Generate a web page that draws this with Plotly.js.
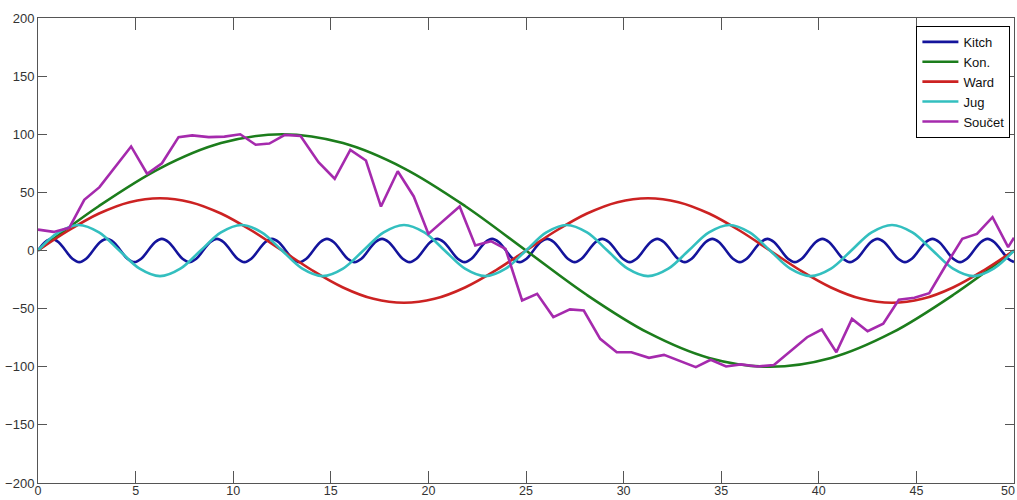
<!DOCTYPE html>
<html>
<head>
<meta charset="utf-8">
<script src="https://cdn.plot.ly/plotly-3.0.1.min.js"></script>
<style>html,body{margin:0;padding:0;background:#fff;}#chart{width:1017px;height:500px;}</style>
</head>
<body>
<div id="chart"></div>
<script>
// Kitch (short cycle) - points read at eighth-periods
const kitchX = [0,0.3525,0.705,1.0575,1.41,1.7625,2.115,2.4675,2.82,3.1725,3.525,3.8775,4.23,4.5825,4.935,5.2875,5.64,5.9925,6.345,6.6975,7.05,7.4025,7.755,8.1075,8.46,8.8125,9.165,9.5175,9.87,10.2225,10.575,10.9275,11.28,11.6325,11.985,12.3375,12.69,13.0425,13.395,13.7475,14.1,14.4525,14.805,15.1575,15.51,15.8625,16.215,16.5675,16.92,17.2725,17.625,17.9775,18.33,18.6825,19.035,19.3875,19.74,20.0925,20.445,20.7975,21.15,21.5025,21.855,22.2075,22.56,22.9125,23.265,23.6175,23.97,24.3225,24.675,25.0275,25.38,25.7325,26.085,26.4375,26.79,27.1425,27.495,27.8475,28.2,28.5525,28.905,29.2575,29.61,29.9625,30.315,30.6675,31.02,31.3725,31.725,32.0775,32.43,32.7825,33.135,33.4875,33.84,34.1925,34.545,34.8975,35.25,35.6025,35.955,36.3075,36.66,37.0125,37.365,37.7175,38.07,38.4225,38.775,39.1275,39.48,39.8325,40.185,40.5375,40.89,41.2425,41.595,41.9475,42.3,42.6525,43.005,43.3575,43.71,44.0625,44.415,44.7675,45.12,45.4725,45.825,46.1775,46.53,46.8825,47.235,47.5875,47.94,48.2925,48.645,48.9975,49.35,49.7025,50];
const kitchY = [
0,7.1,10,7.1,0,-7.1,-10,-7.1, 0,7.1,10,7.1,0,-7.1,-10,-7.1, 0,7.1,10,7.1,0,-7.1,-10,-7.1,
0,7.1,10,7.1,0,-7.1,-10,-7.1, 0,7.1,10,7.1,0,-7.1,-10,-7.1, 0,7.1,10,7.1,0,-7.1,-10,-7.1,
0,7.1,10,7.1,0,-7.1,-10,-7.1, 0,7.1,10,7.1,0,-7.1,-10,-7.1, 0,7.1,10,7.1,0,-7.1,-10,-7.1,
0,7.1,10,7.1,0,-7.1,-10,-7.1, 0,7.1,10,7.1,0,-7.1,-10,-7.1, 0,7.1,10,7.1,0,-7.1,-10,-7.1,
0,7.1,10,7.1,0,-7.1,-10,-7.1, 0,7.1,10,7.1,0,-7.1,-10,-7.1, 0,7.1,10,7.1,0,-7.1,-10,-7.1,
0,7.1,10,7.1,0,-7.1,-10,-7.1, 0,7.1,10,7.1,0,-7.1,-10,-7.1,
0,7.1,10,7.1,0,-7.1,-9.9];

// Kon. (long wave)
const konX = [0,3.125,6.25,9.375,12.5,15.625,18.75,21.875,25,28.125,31.25,34.375,37.5,40.625,43.75,46.875,50];
const konY = [0,38.3,70.7,92.4,100,92.4,70.7,38.3,0,-38.3,-70.7,-92.4,-100,-92.4,-70.7,-38.3,0];

// Ward
const wardX = [0,1.5625,3.125,4.6875,6.25,7.8125,9.375,10.9375,12.5,14.0625,15.625,17.1875,18.75,20.3125,21.875,23.4375,25,26.5625,28.125,29.6875,31.25,32.8125,34.375,35.9375,37.5,39.0625,40.625,42.1875,43.75,45.3125,46.875,48.4375,50];
const wardY = [0,17.2,31.8,41.6,45,41.6,31.8,17.2,0,-17.2,-31.8,-41.6,-45,-41.6,-31.8,-17.2,0,17.2,31.8,41.6,45,41.6,31.8,17.2,0,-17.2,-31.8,-41.6,-45,-41.6,-31.8,-17.2,0];

// Jug
const jugX = [0,1.042,2.083,3.125,4.167,5.208,6.25,7.292,8.333,9.375,10.417,11.458,12.5,13.542,14.583,15.625,16.667,17.708,18.75,19.792,20.833,21.875,22.917,23.958,25,26.042,27.083,28.125,29.167,30.208,31.25,32.292,33.333,34.375,35.417,36.458,37.5,38.542,39.583,40.625,41.667,42.708,43.75,44.792,45.833,46.875,47.917,48.958,50];
const jugY = [0,15.6,22,15.6,0,-15.6,-22,-15.6,0,15.6,22,15.6,0,-15.6,-22,-15.6,0,15.6,22,15.6,0,-15.6,-22,-15.6,0,15.6,22,15.6,0,-15.6,-22,-15.6,0,15.6,22,15.6,0,-15.6,-22,-15.6,0,15.6,22,15.6,0,-15.6,-22,-15.6,0];

// Součet
const sumX = [0,0.8,1.6,2.37,3.15,3.95,4.77,5.59,6.35,7.2,7.9,8.75,9.55,10.36,11.15,11.85,12.65,13.45,14.37,15.2,16.0,16.8,17.57,18.43,19.25,20.0,20.8,21.6,22.4,23.2,23.95,24.8,25.57,26.4,27.25,27.96,28.8,29.65,30.4,31.3,32.07,32.85,33.7,34.46,35.25,36.0,36.86,37.7,38.6,39.4,40.15,40.9,41.7,42.5,43.3,44.1,44.9,45.66,46.5,47.35,48.1,48.9,49.7,50];
const sumY = [18,16,19.5,43.6,54.5,72,89.5,66,75,97.5,99,97.5,98,100,91,92,99.5,98.5,76,61.7,86.6,77.4,37.8,68.2,46.5,14.3,25.8,37.8,4.3,8,1.4,-43,-37.3,-57.3,-50.7,-51.6,-76,-87.5,-87.5,-92.3,-89.8,-94.6,-100.3,-94,-99.8,-98,-99.8,-98.5,-86,-74.6,-68,-87.5,-58.8,-69.4,-63,-42.4,-40.7,-36.7,-12.9,10,14.3,28.7,2.9,11];

// x tick labels
const xTickVals = [0,5,10,15,20,25,30,35,40,45,50];
const xTickText = ['0','5','10','15','20','25','30','35','40','45',''];
const xLastLabel = '50';

const names = ['Kitch','Kon.','Ward','Jug','Součet'];
const colors = ['#14149c','#1c7d1c','#cc2222','#33bfbf','#a52aad'];

const series = [[kitchX,kitchY,'spline'],[konX,konY,'spline'],[wardX,wardY,'spline'],[jugX,jugY,'spline'],[sumX,sumY,'linear']];
const data = series.map((s,i)=>({
  x:s[0], y:s[1], type:'scatter', mode:'lines', name:names[i],
  line:{color:colors[i], width:2.6, shape:s[2]}
}));

const tickFont = {family:'Liberation Sans, Arial, sans-serif', size:13, color:'#333'};
const axisCommon = {
  showgrid:false, zeroline:false, showline:true, linecolor:'#555', linewidth:1,
  mirror:'allticks', ticks:'inside', tickcolor:'#555', tickwidth:1,
  tickfont:tickFont
};

const layout = {
  width:1017, height:500,
  margin:{l:38, r:3, t:18, b:17},
  paper_bgcolor:'#fff', plot_bgcolor:'#fff',
  showlegend:true,
  xaxis:Object.assign({}, axisCommon, {range:[0,50], tickmode:'array', tickvals:xTickVals, ticktext:xTickText,
    ticklen:12, ticklabelstandoff:-4,
    tickfont:{family:'Liberation Sans, Arial, sans-serif', size:12.5, color:'#333'}}),
  yaxis:Object.assign({}, axisCommon, {range:[-200,200], dtick:50, tick0:0, ticklen:9}),
  annotations:[{x:xTickVals[xTickVals.length-1], xref:'x', y:0, yref:'paper', xanchor:'right', yanchor:'top',
    yshift:1, xshift:3, showarrow:false, text:xLastLabel,
    font:{family:'Liberation Sans, Arial, sans-serif', size:12.5, color:'#333'}}],
  legend:{x:0.9, y:0.983, xanchor:'left', yanchor:'top', bgcolor:'#fff',
    bordercolor:'#000', borderwidth:1, itemwidth:36,
    font:{family:'Liberation Sans, Arial, sans-serif', size:13, color:'#111'}}
};

Plotly.newPlot('chart', data, layout, {displayModeBar:false, staticPlot:true});
</script>
</body>
</html>
